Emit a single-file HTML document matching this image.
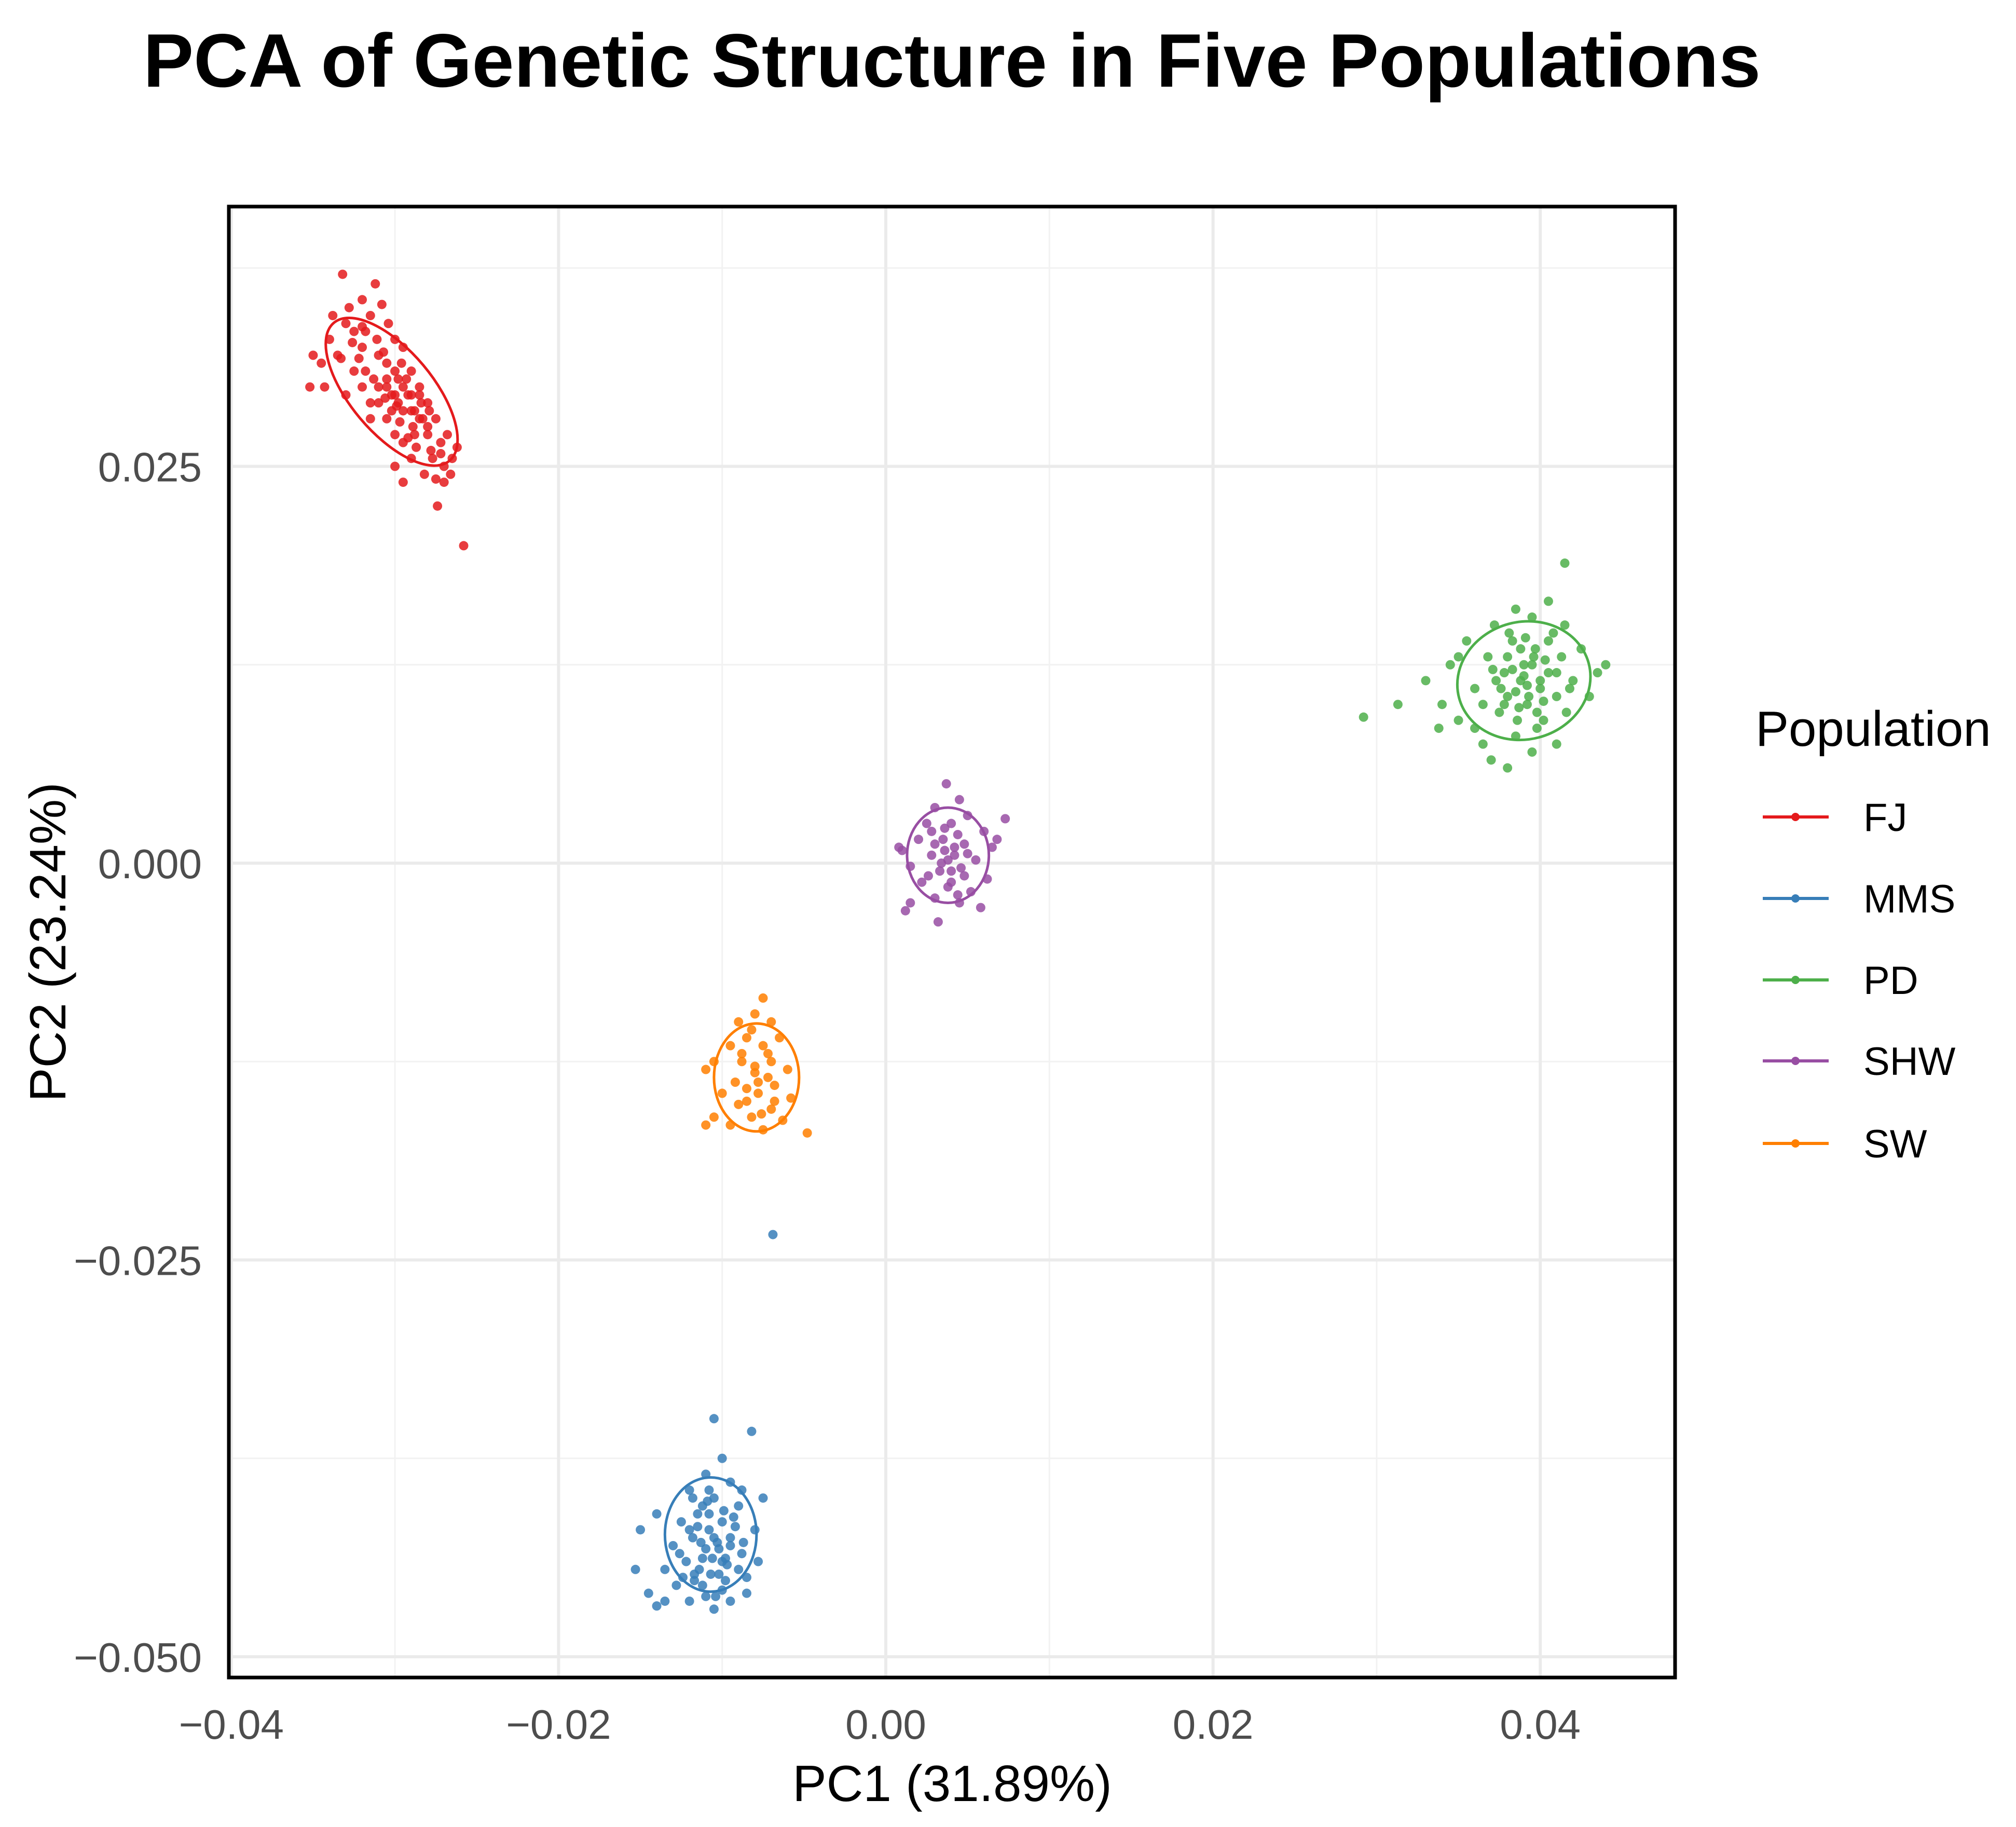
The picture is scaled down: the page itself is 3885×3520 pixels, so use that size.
<!DOCTYPE html>
<html><head><meta charset="utf-8"><style>
html,body{margin:0;padding:0;background:#fff;}
svg{display:block;font-family:"Liberation Sans",Arial,sans-serif;}
</style></head><body>
<svg id="chart" width="3885" height="3520" viewBox="0 0 3885 3520" xmlns="http://www.w3.org/2000/svg">
<rect width="3885" height="3520" fill="#fff"/>
<text x="276" y="167" font-size="146" font-weight="bold" fill="#000" textLength="3117" lengthAdjust="spacingAndGlyphs">PCA of Genetic Structure in Five Populations</text>
<g id="grid"></g>
<g id="ellipses"></g>
<g id="points"></g>
<rect x="441" y="398" width="2787" height="2834" fill="none" stroke="#000" stroke-width="7"/>
<g id="ticks"></g>
<text x="1835" y="3470" font-size="98" text-anchor="middle" fill="#000">PC1 (31.89%)</text>
<text transform="translate(126,1815) rotate(-90)" font-size="98" text-anchor="middle" fill="#000">PC2 (23.24%)</text>
<g id="legend">
<text x="3383" y="1437" font-size="96" fill="#000">Population</text>
</g>
</svg>
<script>
const groups = ["FJ","MMS","PD","SHW","SW"];
const colors = ["#E41A1C","#377EB8","#4DAF4A","#984EA3","#FF7F00"];
const xTicks = [-0.04,-0.02,0.00,0.02,0.04];
const xTickLabels = ["\u22120.04","\u22120.02","0.00","0.02","0.04"];
const yTicks = [0.025,0.000,-0.025,-0.050];
const yTickLabels = ["0.025","0.000","\u22120.025","\u22120.050"];
const xMinor = [-0.03,-0.01,0.01,0.03];
const yMinor = [0.0375,0.0125,-0.0125,-0.0375];
const fjX = [-0.0340,-0.0335,-0.0330,-0.0325,-0.0320,-0.0315,-0.0318,-0.0310,-0.0305,-0.0300,-0.0298,-0.0295,-0.0290,-0.0288,-0.0285,-0.0280,-0.0278,-0.0275,-0.0272,-0.0270,-0.0268,-0.0265,-0.0310,-0.0320,-0.0325,-0.0330,-0.0345,-0.0350,-0.0352,-0.0300,-0.0295,-0.0290,-0.0285,-0.0305,-0.0300,-0.0295,-0.0290,-0.0282,-0.0275,-0.0280,-0.0315,-0.0308,-0.0312,-0.0320,-0.0328,-0.0305,-0.0298,-0.0302,-0.0292,-0.0288,-0.0283,-0.0313,-0.0322,-0.0270,-0.0262,-0.0274,-0.0258,-0.0295,-0.0300,-0.0338,-0.0332,
-0.0305,-0.0300,-0.0295,-0.0290,-0.0310,-0.0315,-0.0285,-0.0280,-0.0302,-0.0297,-0.0292,-0.0307,-0.0287,-0.0277,-0.0320,-0.0326,-0.0333,-0.0318,-0.0296,-0.0284,-0.0272,-0.0266,-0.0279,-0.0304,-0.0311,-0.0289,-0.0299,-0.0293,-0.0306,-0.0343];
const fjY = [0.0330,0.0320,0.0340,0.0335,0.0325,0.0345,0.0310,0.0320,0.0300,0.0310,0.0290,0.0300,0.0285,0.0270,0.0295,0.0275,0.0260,0.0280,0.0265,0.0250,0.0270,0.0255,0.0290,0.0300,0.0310,0.0295,0.0315,0.0320,0.0300,0.0330,0.0325,0.0310,0.0300,0.0280,0.0270,0.0265,0.0255,0.0245,0.0242,0.0290,0.0280,0.0352,0.0365,0.0355,0.0350,0.0315,0.0305,0.0295,0.0295,0.0285,0.0280,0.0305,0.0318,0.0240,0.0262,0.0225,0.0200,0.0240,0.0250,0.0345,0.0371,
0.0305,0.0295,0.0285,0.0295,0.0300,0.0290,0.0280,0.0270,0.0285,0.0278,0.0268,0.0322,0.0262,0.0255,0.0338,0.0328,0.0318,0.0335,0.0315,0.0290,0.0258,0.0245,0.0285,0.0340,0.0330,0.0275,0.0288,0.0305,0.0293,0.0300];
const mmsX = [-0.0105,-0.0082,-0.0100,-0.0110,-0.0095,-0.0120,-0.0105,-0.0090,-0.0115,-0.0100,-0.0125,-0.0108,-0.0095,-0.0118,-0.0130,-0.0102,-0.0088,-0.0112,-0.0122,-0.0097,-0.0135,-0.0107,-0.0085,-0.0117,-0.0128,-0.0100,-0.0110,-0.0120,-0.0095,-0.0105,-0.0140,-0.0150,-0.0153,-0.0145,-0.0135,-0.0080,-0.0078,-0.0075,-0.0085,-0.0112,-0.0103,-0.0114,-0.0098,-0.0092,-0.0126,-0.0108,-0.0118,-0.0069,-0.0140,-0.0088,
-0.0105,-0.0110,-0.0100,-0.0115,-0.0095,-0.0108,-0.0102,-0.0112,-0.0098,-0.0120,-0.0090,-0.0106,-0.0113,-0.0099,-0.0104,-0.0117,-0.0093,-0.0109,-0.0124,-0.0087];
const mmsY = [-0.0350,-0.0358,-0.0375,-0.0385,-0.0390,-0.0395,-0.0400,-0.0405,-0.0410,-0.0415,-0.0415,-0.0420,-0.0425,-0.0425,-0.0430,-0.0432,-0.0435,-0.0438,-0.0440,-0.0442,-0.0445,-0.0448,-0.0450,-0.0452,-0.0455,-0.0458,-0.0462,-0.0465,-0.0465,-0.0470,-0.0410,-0.0420,-0.0445,-0.0460,-0.0465,-0.0420,-0.0440,-0.0400,-0.0460,-0.0405,-0.0428,-0.0445,-0.0438,-0.0418,-0.0435,-0.0395,-0.0400,-0.0234,-0.0468,-0.0395,
-0.0425,-0.0432,-0.0440,-0.0418,-0.0430,-0.0410,-0.0448,-0.0455,-0.0452,-0.0420,-0.0445,-0.0438,-0.0428,-0.0408,-0.0462,-0.0448,-0.0412,-0.0402,-0.0450,-0.0428];
const pdX = [0.0292,0.0313,0.0415,0.0330,0.0340,0.0345,0.0350,0.0355,0.0360,0.0365,0.0368,0.0372,0.0375,0.0378,0.0380,0.0383,0.0385,0.0388,0.0390,0.0392,0.0395,0.0397,0.0400,0.0402,0.0405,0.0408,0.0410,0.0413,0.0416,0.0420,0.0425,0.0430,0.0435,0.0440,0.0370,0.0380,0.0395,0.0360,0.0350,0.0385,0.0405,0.0398,0.0376,0.0392,0.0387,0.0403,0.0371,0.0415,0.0338,0.0410,
0.0390,0.0385,0.0395,0.0380,0.0400,0.0388,0.0393,0.0378,0.0405,0.0383,0.0398,0.0373,0.0410,0.0365,0.0418,0.0391,0.0386,0.0402,0.0381,0.0396];
const pdY = [0.0092,0.0100,0.0189,0.0115,0.0100,0.0125,0.0090,0.0140,0.0110,0.0075,0.0130,0.0150,0.0095,0.0120,0.0105,0.0140,0.0080,0.0115,0.0125,0.0100,0.0155,0.0135,0.0110,0.0090,0.0120,0.0145,0.0105,0.0130,0.0095,0.0115,0.0135,0.0105,0.0120,0.0125,0.0065,0.0060,0.0070,0.0085,0.0130,0.0160,0.0165,0.0085,0.0110,0.0112,0.0098,0.0128,0.0122,0.0150,0.0085,0.0075,
0.0118,0.0108,0.0125,0.0130,0.0115,0.0135,0.0105,0.0100,0.0140,0.0122,0.0095,0.0115,0.0120,0.0100,0.0110,0.0142,0.0090,0.0102,0.0145,0.0130];
const shwX = [0.0037,0.0045,0.0030,0.0050,0.0025,0.0040,0.0073,0.0060,0.0020,0.0035,0.0048,0.0065,0.0010,0.0028,0.0042,0.0055,0.0015,0.0033,0.0048,0.0062,0.0022,0.0038,0.0052,0.0030,0.0045,0.0015,0.0058,0.0032,0.0012,0.0040,0.0036,0.0044,0.0026,0.0068,0.0008,
0.0038,0.0042,0.0034,0.0046,0.0030,0.0050,0.0040,0.0036,0.0044,0.0028];
const shwY = [0.0050,0.0040,0.0035,0.0030,0.0025,0.0025,0.0028,0.0020,0.0015,0.0015,0.0012,0.0010,0.0008,0.0005,0.0005,0.0002,-0.0002,-0.0005,-0.0008,-0.0010,-0.0012,-0.0015,-0.0018,-0.0022,-0.0025,-0.0025,-0.0028,-0.0037,-0.0030,-0.0005,0.0008,0.0018,-0.0008,0.0015,0.0010,
0.0002,0.0010,0.0000,-0.0003,0.0012,0.0006,-0.0012,0.0022,-0.0020,0.0020];
const swX = [-0.0075,-0.0080,-0.0090,-0.0070,-0.0085,-0.0065,-0.0095,-0.0075,-0.0105,-0.0088,-0.0070,-0.0060,-0.0110,-0.0080,-0.0092,-0.0068,-0.0100,-0.0078,-0.0058,-0.0090,-0.0070,-0.0105,-0.0082,-0.0063,-0.0095,-0.0075,-0.0110,-0.0048,-0.0085,-0.0072,
-0.0080,-0.0078,-0.0085,-0.0072,-0.0088,-0.0068,-0.0082,-0.0076];
const swY = [-0.0085,-0.0095,-0.0100,-0.0100,-0.0110,-0.0110,-0.0115,-0.0115,-0.0125,-0.0125,-0.0125,-0.0130,-0.0130,-0.0132,-0.0138,-0.0140,-0.0145,-0.0145,-0.0148,-0.0152,-0.0155,-0.0160,-0.0160,-0.0162,-0.0165,-0.0168,-0.0165,-0.0170,-0.0142,-0.0135,
-0.0128,-0.0138,-0.0150,-0.0120,-0.0120,-0.0150,-0.0105,-0.0158];
const ellCx = [-0.0302,-0.0107,0.0390,0.0038,-0.0079];
const ellCy = [0.0297,-0.0423,0.0115,0.0005,-0.0135];
const ellRx = [0.0055,0.0028,0.0041,0.0025,0.0026];
const ellRy = [0.0026,0.0036,0.0037,0.0030,0.0034];
const ellRot = [50,0,-15,0,0];

const NS="http://www.w3.org/2000/svg";
const X0=1707, XS=315.3/0.01, Y0=1663, YS=305.8/0.01;
const L=441,R=3228,T=398,B=3232;
function sx(v){return X0+v*XS;}
function sy(v){return Y0-v*YS;}
function mk(tag,attrs,parent){const e=document.createElementNS(NS,tag);for(const k in attrs)e.setAttribute(k,attrs[k]);parent.appendChild(e);return e;}
const grid=document.getElementById('grid');
xMinor.forEach(v=>{const e=mk('line',{x1:sx(v),x2:sx(v),y1:T,y2:B,stroke:'#f2f2f2','stroke-width':3},grid);

});
yMinor.forEach(v=>{const e=mk('line',{x1:L,x2:R,y1:sy(v),y2:sy(v),stroke:'#f2f2f2','stroke-width':3},grid);

});
xTicks.forEach(v=>{const e=mk('line',{x1:sx(v),x2:sx(v),y1:T,y2:B,stroke:'#ebebeb','stroke-width':6},grid);

});
yTicks.forEach(v=>{const e=mk('line',{x1:L,x2:R,y1:sy(v),y2:sy(v),stroke:'#ebebeb','stroke-width':6},grid);

});
const ticks=document.getElementById('ticks');
xTicks.forEach((v,i)=>{const t=mk('text',{x:sx(v),y:3350,'font-size':80,'text-anchor':'middle',fill:'#4d4d4d'},ticks);t.textContent=xTickLabels[i];

});
yTicks.forEach((v,i)=>{const t=mk('text',{x:389,y:sy(v)+29,'font-size':80,'text-anchor':'end',fill:'#4d4d4d'},ticks);t.textContent=yTickLabels[i];

});
const ell=document.getElementById('ellipses');
groups.forEach((g,i)=>{const cx=sx(ellCx[i]),cy=sy(ellCy[i]);
const e=mk('ellipse',{cx:cx,cy:cy,rx:ellRx[i]*XS,ry:ellRy[i]*YS,fill:'none',stroke:colors[i],'stroke-width':5,transform:`rotate(${ellRot[i]} ${cx} ${cy})`},ell);

});
const pts=document.getElementById('points');
const series=[[fjX,fjY],[mmsX,mmsY],[pdX,pdY],[shwX,shwY],[swX,swY]];
series.forEach((s,i)=>{const gg=mk('g',{fill:colors[i],'fill-opacity':0.85},pts);


s[0].forEach((x,j)=>{const c=mk('circle',{cx:sx(x),cy:sy(s[1][j]),r:9},gg);

});});
const leg=document.getElementById('legend');
const legY=[1574,1731,1888,2044,2203];
groups.forEach((g,i)=>{const y=legY[i];
const gg=mk('g',{},leg);


mk('line',{x1:3397,x2:3524,y1:y,y2:y,stroke:colors[i],'stroke-width':6},gg);
mk('circle',{cx:3460,cy:y,r:8,fill:colors[i]},gg);
const t=mk('text',{x:3591,y:y+27,'font-size':76,fill:'#000'},gg);t.textContent=g;

});
</script>
</body></html>
